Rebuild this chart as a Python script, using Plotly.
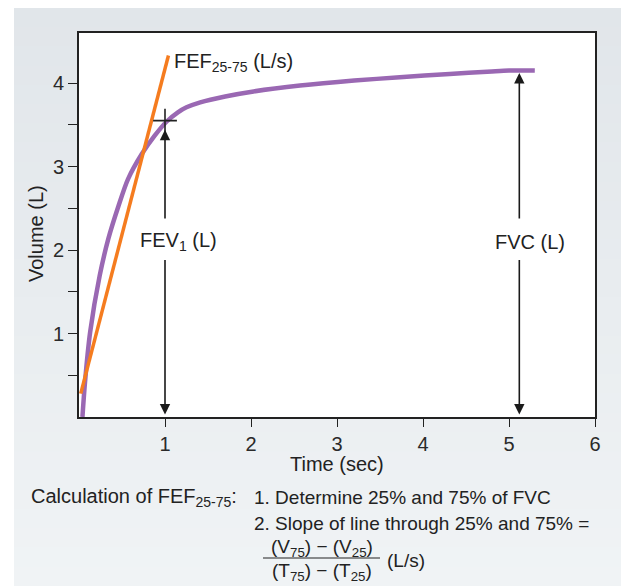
import plotly.graph_objects as go

# ---------------- data ----------------
time_curve = [0.04, 0.07, 0.13, 0.24, 0.34, 0.46, 0.57, 0.73, 0.88, 1.02, 1.15, 1.25,
              1.41, 1.70, 2.03, 2.57, 3.20, 3.73, 4.31, 4.80, 5.00, 5.30]
volume_curve = [0.00, 0.42, 1.02, 1.69, 2.13, 2.53, 2.85, 3.15, 3.37, 3.54, 3.65, 3.71,
                3.77, 3.84, 3.90, 3.97, 4.03, 4.07, 4.11, 4.14, 4.15, 4.15]
fef_time = [0.02, 1.04]
fef_volume = [0.28, 4.33]
fev1_point = (1.0, 3.55)
fvc_time = 5.12
fvc_volume = 4.12
x_ticks = [1, 2, 3, 4, 5, 6]
y_ticks = [0.5, 1, 1.5, 2, 2.5, 3, 3.5, 4]
y_ticktext = ["", "1", "", "2", "", "3", "", "4"]

FONT = "Liberation Sans, Arial, Helvetica, sans-serif"
TXT = "#222222"

fig = go.Figure()
fig.add_trace(go.Scatter(x=time_curve, y=volume_curve, mode="lines",
                         line=dict(color="#9a68b3", width=4.5, shape="spline", smoothing=0.8),
                         hoverinfo="skip"))
fig.add_trace(go.Scatter(x=fef_time, y=fef_volume, mode="lines",
                         line=dict(color="#f57c1f", width=3.5), hoverinfo="skip"))
fig.add_trace(go.Scatter(x=[fev1_point[0]], y=[fev1_point[1]], mode="markers",
                         marker=dict(symbol="cross-thin", size=17,
                                     line=dict(color="#222222", width=1.6)),
                         hoverinfo="skip"))

# plot geometry (pixels)
L, R, T, B = 79, 595, 33, 417
W, H = 621, 586
def px(x):
    return (x - L) / (R - L)
def py(y):
    return (B - y) / (B - T)

shapes = []
# gradient gray panel
n = 30
top_c = (225, 230, 234)
bot_c = (240, 243, 245)
y0p, y1p = 8, H
for i in range(n):
    a = y0p + (y1p - y0p) * i / n
    b = y0p + (y1p - y0p) * (i + 1) / n + 1
    f = i / (n - 1)
    c = tuple(int(round(top_c[k] + (bot_c[k] - top_c[k]) * f)) for k in range(3))
    shapes.append(dict(type="rect", xref="paper", yref="paper", layer="below",
                       x0=px(14), x1=px(W + 2), y0=py(b), y1=py(a),
                       fillcolor="rgb(%d,%d,%d)" % c, line=dict(width=0)))
# white plot area
shapes.append(dict(type="rect", xref="x domain", yref="y domain", layer="below",
                   x0=0, x1=1, y0=0, y1=1, fillcolor="white", line=dict(width=0)))
# fraction bar
shapes.append(dict(type="line", xref="paper", yref="paper", x0=px(263), x1=px(380),
                   y0=py(558), y1=py(558), line=dict(color=TXT, width=1.2)))

ann = []
def arrow(x, y_from, y_to):
    ann.append(dict(x=x, y=y_to, ax=x, ay=y_from, xref="x", yref="y", axref="x", ayref="y",
                    text="", showarrow=True, arrowhead=2, arrowsize=1.3, arrowwidth=1.6,
                    arrowcolor="#1a1a1a", standoff=0, startstandoff=0))
# FEV1 arrows
arrow(fev1_point[0], 2.36, 3.44)
arrow(fev1_point[0], 1.90, 0.03)
# FVC arrows
arrow(fvc_time, 2.36, fvc_volume)
arrow(fvc_time, 1.90, 0.03)

def text(x, y, s, size=20, xanchor="center", yanchor="middle", ref="paper", angle=0):
    ann.append(dict(x=x, y=y, xref=ref, yref=ref, text=s, showarrow=False,
                    xanchor=xanchor, yanchor=yanchor, textangle=angle,
                    font=dict(family=FONT, size=size, color=TXT)))

text(px(178), py(242), "FEV<sub>1</sub> (L)")
text(px(530), py(242), "FVC (L)")
text(px(172), py(62), "FEF<sub>25-75</sub> (L/s)", xanchor="left")
text(px(337), py(464), "Time (sec)")
text(px(36), py(234), "Volume (L)", angle=-90)
text(px(29), py(497), "Calculation of FEF<sub>25-75</sub>:", size=20, xanchor="left")
text(px(252), py(497), "1. Determine 25% and 75% of FVC", size=19, xanchor="left")
text(px(252), py(523), "2. Slope of line through 25% and 75% =", size=19, xanchor="left")
text(px(321.5), py(548), "(V<sub>75</sub>) − (V<sub>25</sub>)", size=19)
text(px(321.5), py(572), "(T<sub>75</sub>) − (T<sub>25</sub>)", size=19)
text(px(385), py(560), "(L/s)", size=19, xanchor="left")

fig.update_layout(
    width=W, height=H, margin=dict(l=L, r=W - R, t=T, b=H - B),
    paper_bgcolor="white", plot_bgcolor="white", showlegend=False,
    shapes=shapes, annotations=ann,
    font=dict(family=FONT, color=TXT, size=19),
)
tick_font = dict(family=FONT, size=20, color="#2a2a2a")
fig.update_xaxes(range=[0, 6], tickvals=x_ticks, ticks="outside", ticklen=8, tickwidth=1.3,
                 tickcolor="#222", showgrid=False, zeroline=False, showline=True, mirror=True,
                 linecolor="#222", linewidth=1.6, tickfont=tick_font)
fig.update_yaxes(range=[0, 4.6], tickvals=y_ticks, ticktext=y_ticktext, ticks="outside",
                 ticklen=9, tickwidth=1.3, tickcolor="#222", showgrid=False, zeroline=False,
                 showline=True, mirror=True, linecolor="#222", linewidth=1.6,
                 tickfont=tick_font)

fig.write_html("out.html")
